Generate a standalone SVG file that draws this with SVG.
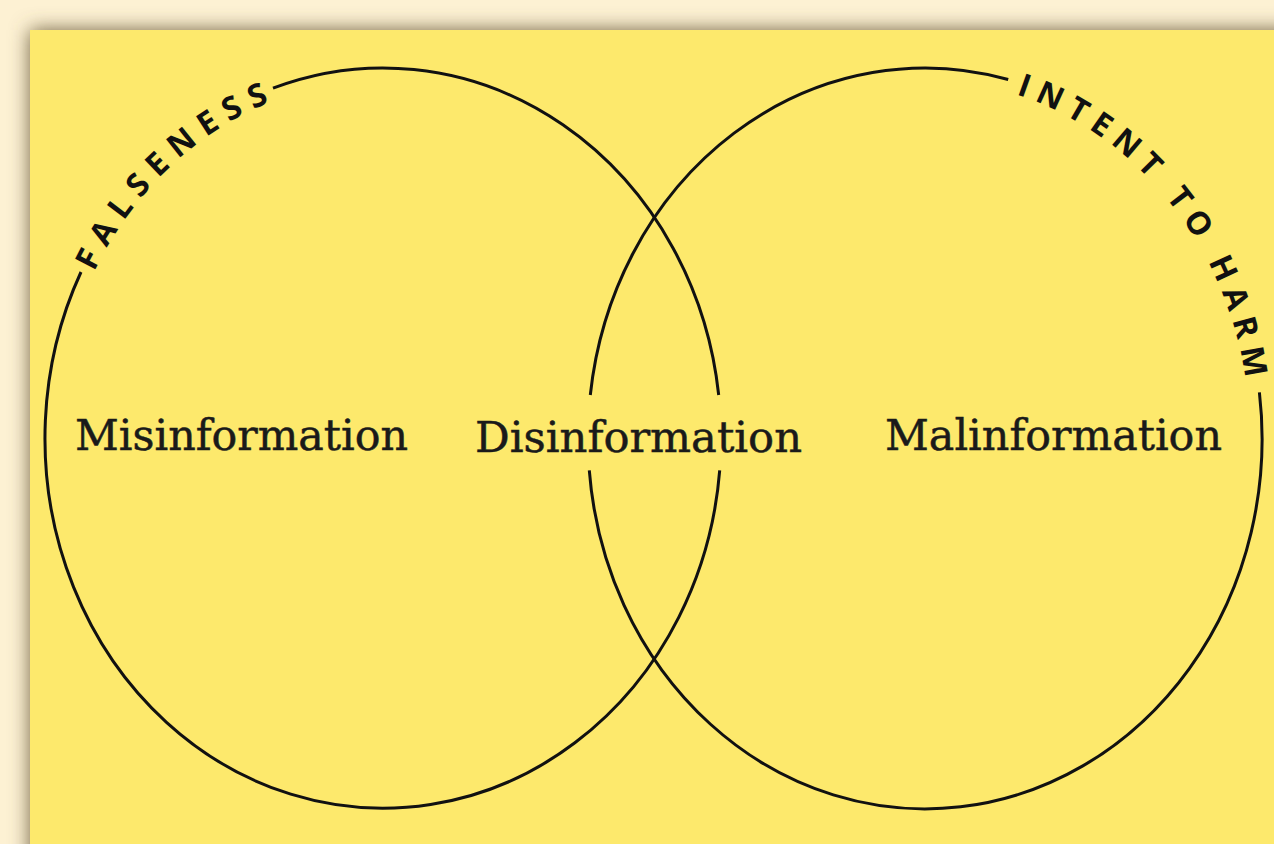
<svg xmlns="http://www.w3.org/2000/svg" width="1274" height="844" viewBox="0 0 1274 844">
  <defs>
    <filter id="shadow" x="-10%" y="-10%" width="120%" height="120%">
      <feGaussianBlur stdDeviation="10"/>
    </filter>
    <path id="arcFalse" d="M 68.1 345.3 A 326 358 0 0 1 337.6 83.5"/>
    <path id="arcHarm" d="M 970.2 83.5 A 325 358 0 0 1 1249.8 425.5"/>
  </defs>
  <style>
    .ring { fill: none; stroke: #111; stroke-width: 3; }
    .label { font-family: "DejaVu Serif", "Liberation Serif", serif; font-size: 43px; fill: #1a1a1a; stroke: #1a1a1a; stroke-width: 0.5px; }
    .arc { font-family: "Open Sans", "DejaVu Sans", sans-serif; font-weight: 700; font-size: 32px; fill: #111; }
  </style>
  <rect x="0" y="0" width="1274" height="844" fill="#fdf1d3"/>
  <rect x="30" y="30" width="1300" height="900" fill="#6e6040" filter="url(#shadow)"/>
  <rect x="30" y="30" width="1300" height="900" fill="#fde96c"/>

  <g id="connectors"></g>

  <g id="falseness">
    <path class="ring" d="M 273.0 88.2 A 338 370 0 0 1 718.7 395 M 719.7 470.3 A 338 370 0 1 1 81 272"/>
    <text class="arc" letter-spacing="9.6"><textPath href="#arcFalse" startOffset="78">FALSENESS</textPath></text>
  </g>

  <g id="intent-to-harm">
    <path class="ring" d="M 1259.4 392.3 A 337 370 0 1 1 589.3 470.3 M 590.3 395 A 337 370 0 0 1 1008.2 79.5"/>
    <text class="arc" letter-spacing="8.3"><textPath href="#arcHarm" startOffset="47">INTENT TO HARM</textPath></text>
  </g>

  <g id="misinformation">
    <text class="label" x="75" y="450" textLength="333" lengthAdjust="spacingAndGlyphs">Misinformation</text>
  </g>
  <g id="disinformation">
    <text class="label" x="475" y="452" textLength="327" lengthAdjust="spacingAndGlyphs">Disinformation</text>
  </g>
  <g id="malinformation">
    <text class="label" x="885" y="450" textLength="337" lengthAdjust="spacingAndGlyphs">Malinformation</text>
  </g>
</svg>
